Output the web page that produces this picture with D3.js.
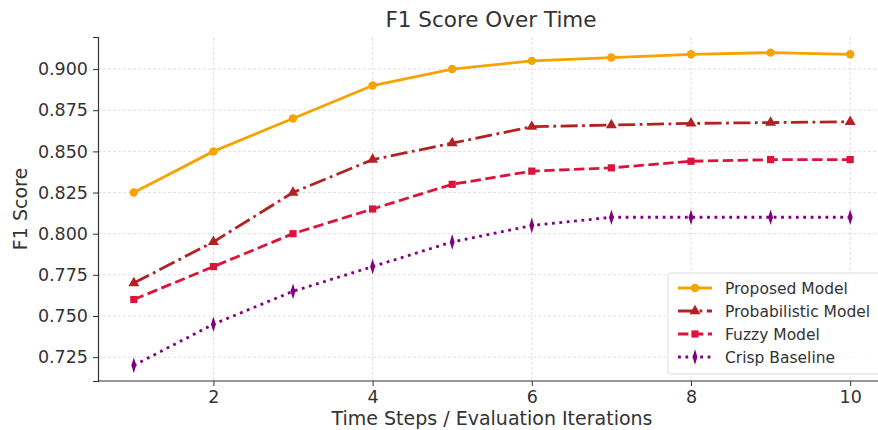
<!DOCTYPE html>
<html>
<head>
<meta charset="utf-8">
<script src="https://cdn.jsdelivr.net/npm/d3@7"></script>
<style>
  body { margin: 0; background: #fff; }
  text { font-family: "DejaVu Sans", sans-serif; fill: #333; }
</style>
</head>
<body>
<div id="chart"></div>
<script>
// Data
var steps = [1, 2, 3, 4, 5, 6, 7, 8, 9, 10];
var proposed = [0.825, 0.85, 0.87, 0.89, 0.9, 0.905, 0.907, 0.909, 0.91, 0.909];
var probabilistic = [0.77, 0.795, 0.825, 0.845, 0.855, 0.865, 0.866, 0.867, 0.8675, 0.868];
var fuzzy = [0.76, 0.78, 0.8, 0.815, 0.83, 0.838, 0.84, 0.844, 0.845, 0.845];
var crisp = [0.72, 0.745, 0.765, 0.78, 0.795, 0.805, 0.81, 0.81, 0.81, 0.81];
var xTicks = [2, 4, 6, 8, 10];
var yTicks = [0.725, 0.75, 0.775, 0.8, 0.825, 0.85, 0.875, 0.9];

var series = [
  { name: "Proposed Model", values: proposed, color: "#f5a300", dash: null, marker: "circle" },
  { name: "Probabilistic Model", values: probabilistic, color: "#b22222", dash: "17,4.5,2.8,4.5", marker: "triangle" },
  { name: "Fuzzy Model", values: fuzzy, color: "#dc143c", dash: "10.4,4.5", marker: "square" },
  { name: "Crisp Baseline", values: crisp, color: "#800080", dash: "2.8,4.6", marker: "diamond" }
];

var W = 878, H = 430;
var margin = { top: 37, right: -8, bottom: 49, left: 98 },
  width = W - margin.left - margin.right,
  height = H - margin.top - margin.bottom;

var svg = d3
  .select("#chart")
  .append("svg")
  .attr("width", W)
  .attr("height", H);

svg.append("defs").append("clipPath").attr("id", "clip")
  .append("rect").attr("x", 0).attr("y", -10).attr("width", W - margin.left).attr("height", height + 20);

var g = svg.append("g").attr("transform", "translate(" + margin.left + "," + margin.top + ")");

var x = d3.scaleLinear().domain([0.55, 10.45]).range([0, width]);
var y = d3.scaleLinear().domain([0.7105, 0.9195]).range([height, 0]);

// Grid
var grid = g.append("g").attr("clip-path", "url(#clip)");
grid.selectAll(".gx").data(xTicks).enter().append("line")
  .attr("x1", function (d) { return x(d); }).attr("x2", function (d) { return x(d); })
  .attr("y1", 0).attr("y2", height)
  .attr("stroke", "#d8d8d8").attr("stroke-width", 0.8).attr("stroke-dasharray", "3,2");
grid.selectAll(".gy").data(yTicks).enter().append("line")
  .attr("x1", 0).attr("x2", W)
  .attr("y1", function (d) { return y(d); }).attr("y2", function (d) { return y(d); })
  .attr("stroke", "#d8d8d8").attr("stroke-width", 0.8).attr("stroke-dasharray", "3,2");

// Axes
var xAxis = g.append("g")
  .attr("transform", "translate(0," + height + ")")
  .call(d3.axisBottom(x).tickValues(xTicks).tickFormat(d3.format("d")).tickSizeOuter(0).tickSize(5).tickPadding(5));
var yAxis = g.append("g")
  .call(d3.axisLeft(y).tickValues(yTicks).tickFormat(d3.format(".3f")).tickSizeOuter(0).tickSize(5).tickPadding(5));
[xAxis, yAxis].forEach(function (a) {
  a.select(".domain").attr("stroke", "#333").attr("stroke-width", 1.2);
  a.selectAll(".tick line").attr("stroke", "#333");
  a.selectAll(".tick text").style("font-size", "17.5px").attr("fill", "#333");
});
xAxis.select(".domain").attr("d", "M0,0H" + (W - margin.left));

// Lines
var plot = g.append("g").attr("clip-path", "url(#clip)");
var line = d3.line()
  .x(function (d, i) { return x(steps[i]); })
  .y(function (d) { return y(d); });

var symbols = {
  circle: d3.symbol().type(d3.symbolCircle).size(56),
  triangle: d3.symbol().type(d3.symbolTriangle).size(52),
  square: d3.symbol().type(d3.symbolSquare).size(52),
  diamond: d3.symbol().type(d3.symbolDiamond).size(42)
};

function markerTransform(s, px, py) {
  var sx = s.marker === "diamond" ? "scale(0.7,1.3)" : "";
  return "translate(" + px + "," + py + ")" + sx;
}

series.forEach(function (s) {
  plot.append("path")
    .datum(s.values)
    .attr("fill", "none")
    .attr("stroke", s.color)
    .attr("stroke-width", 2.8)
    .attr("stroke-dasharray", s.dash)
    .attr("d", line);

  plot.selectAll(null)
    .data(s.values)
    .enter()
    .append("path")
    .attr("d", symbols[s.marker])
    .attr("fill", s.color)
    .attr("transform", function (d, i) {
      return markerTransform(s, x(steps[i]), y(d));
    });
});

// Title and labels
svg.append("text")
  .attr("x", 491).attr("y", 27)
  .style("text-anchor", "middle").style("font-size", "21.5px")
  .text("F1 Score Over Time");
svg.append("text")
  .attr("x", 492).attr("y", 425)
  .style("text-anchor", "middle").style("font-size", "19px")
  .text("Time Steps / Evaluation Iterations");
svg.append("text")
  .attr("transform", "translate(27," + (margin.top + height / 2) + ") rotate(-90)")
  .style("text-anchor", "middle").style("font-size", "19px")
  .text("F1 Score");

// Legend
var legend = svg.append("g").attr("transform", "translate(668,273)");
legend.append("rect")
  .attr("width", 216).attr("height", 101).attr("rx", 3)
  .attr("fill", "#fff").attr("fill-opacity", 0.85)
  .attr("stroke", "#ddd");
series.forEach(function (s, i) {
  var ly = 15 + i * 23;
  legend.append("line")
    .attr("x1", 10).attr("x2", 44).attr("y1", ly).attr("y2", ly)
    .attr("stroke", s.color).attr("stroke-width", 2.8)
    .attr("stroke-dasharray", s.dash);
  legend.append("path")
    .attr("d", symbols[s.marker])
    .attr("fill", s.color)
    .attr("transform", markerTransform(s, 27, ly));
  legend.append("text")
    .attr("x", 57).attr("y", ly + 5.5)
    .style("font-size", "15.5px")
    .text(s.name);
});
</script>
</body>
</html>
